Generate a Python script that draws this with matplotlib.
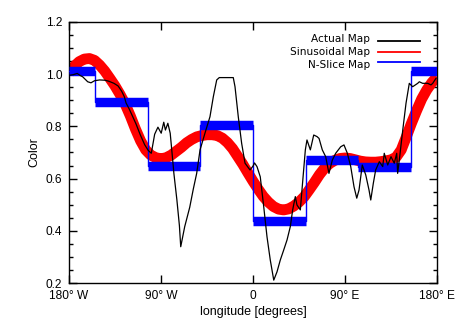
import matplotlib
matplotlib.use("Agg")
import matplotlib.pyplot as plt
from matplotlib.ticker import MultipleLocator, FixedLocator

plt.rcParams['font.family'] = ['Liberation Sans', 'DejaVu Sans']

# Actual map (black)
actual_lon = [-179.7, -176, -172, -169, -166.6, -161.7, -158.5, -155, -150, -145, -141, -136,
              -132, -128.5, -125.9, -124.2, -121, -117.4, -114.5, -110.5, -106, -102.5, -99.5,
              -96.2, -93, -89.8, -87.3, -85.7, -83.3, -81, -79, -77.4, -74.5, -72, -70.7, -66.8,
              -61.9, -58.4, -55.1, -51.8, -47, -42.1, -38.8, -35.5, -33, -19.3, -17.6, -14.4,
              -11.1, -7.8, -2.9, 0.0, 1.5, 3.9, 7.1, 10.5, 13.7, 16.9, 20.3, 23.5, 26.7, 30.0,
              33.3, 36.5, 38.8, 41.4, 43.0, 46.3, 47.9, 51.2, 52.8, 56.1, 59.4, 62.6, 64.6, 67.8,
              71.1, 74.3, 77.6, 80.9, 85.8, 89.0, 92.3, 95.6, 98.8, 101.5, 103.7, 106.9, 110.3,
              113.5, 115.2, 117.7, 120.0, 123.6, 126.9, 128.4, 131.8, 135.0, 138.2, 140.6, 141.5,
              143.1, 146.5, 149.7, 152.9, 156.2, 161.1, 162.7, 166.0, 170.9, 174.1, 175.8, 179.0]
actual_val = [0.996, 0.998, 1.003, 0.995, 0.99, 0.971, 0.967, 0.975, 0.978, 0.977, 0.973, 0.965,
              0.955, 0.935, 0.914, 0.89, 0.866, 0.835, 0.81, 0.77, 0.73, 0.708, 0.697,
              0.77, 0.797, 0.774, 0.816, 0.786, 0.812, 0.774, 0.69, 0.62, 0.52, 0.42, 0.339, 0.416,
              0.49, 0.56, 0.62, 0.71, 0.774, 0.837, 0.914, 0.978, 0.987, 0.987, 0.952, 0.837,
              0.735, 0.659, 0.633, 0.648, 0.66, 0.646, 0.607, 0.492, 0.377, 0.288, 0.211, 0.243, 0.288, 0.326,
              0.365, 0.416, 0.48, 0.531, 0.499, 0.48, 0.556, 0.71, 0.748, 0.71, 0.767, 0.761, 0.754, 0.71,
              0.684, 0.62, 0.671, 0.697, 0.722, 0.729, 0.697, 0.646, 0.569, 0.525, 0.556, 0.652, 0.614,
              0.556, 0.518, 0.582, 0.633, 0.665, 0.646, 0.697, 0.652, 0.684, 0.659, 0.697, 0.62,
              0.671, 0.786, 0.889, 0.965, 0.952, 0.965, 0.971, 0.965, 0.965, 0.959, 0.965, 0.984]

# Sinusoidal map (red)
sin_lon = [-180, -175, -170, -165, -160, -155, -150, -145, -140, -135, -130, -125, -120, -115,
           -110, -105, -100, -95, -90, -85, -80, -75, -70, -65, -60, -55, -50, -45, -40, -35,
           -30, -25, -20, -15, -10, -5, 0, 5, 10, 15, 20, 25, 30, 35, 40, 45, 50, 55, 60, 65,
           70, 75, 80, 85, 90, 95, 100, 105, 110, 115, 120, 125, 130, 135, 140, 145, 150, 155,
           160, 165, 170, 175, 180]
sin_val = [1.005, 1.03, 1.048, 1.058, 1.06, 1.053, 1.035, 1.012, 0.984, 0.955, 0.922, 0.885,
           0.84, 0.79, 0.745, 0.71, 0.69, 0.68, 0.676, 0.68, 0.69, 0.705, 0.72, 0.737, 0.75,
           0.76, 0.765, 0.768, 0.768, 0.765, 0.755, 0.738, 0.715, 0.685, 0.655, 0.622, 0.59,
           0.56, 0.532, 0.51, 0.493, 0.483, 0.48, 0.484, 0.495, 0.51, 0.53, 0.557, 0.585,
           0.615, 0.64, 0.658, 0.67, 0.677, 0.679, 0.677, 0.672, 0.667, 0.664, 0.663, 0.663,
           0.665, 0.668, 0.672, 0.682, 0.71, 0.76, 0.812, 0.86, 0.905, 0.94, 0.968, 0.99]

# N-slice map (blue)
slice_edges = [-180, -154.3, -102.9, -51.4, 0, 51.4, 102.9, 154.3, 180]
slice_val = [1.013, 0.895, 0.649, 0.805, 0.439, 0.670, 0.645, 1.013]

xtick_pos = [-180, -90, 0, 90, 180]
xtick_lab = ['180° W', '90° W', '0', '90° E', '180° E']

W, H = 458, 327
fig = plt.figure(figsize=(W / 100, H / 100), dpi=100)
ax = fig.add_axes([69 / W, (H - 283) / H, 368 / W, 261 / H])

ax.plot(sin_lon, sin_val, color='red', lw=7.8, solid_capstyle='butt', solid_joinstyle='round', zorder=2)

# thin step outline
step_x = []
step_y = []
for i, v in enumerate(slice_val):
    step_x += [slice_edges[i], slice_edges[i + 1]]
    step_y += [v, v]
ax.plot(step_x, step_y, color='blue', lw=1.0, zorder=3)
ax.hlines(slice_val, slice_edges[:-1], slice_edges[1:], color='blue', lw=6.8, zorder=3)

ax.plot(actual_lon, actual_val, color='black', lw=0.9, zorder=4)

ax.set_xlim(-180, 180)
ax.set_ylim(0.2, 1.2)
ax.xaxis.set_major_locator(FixedLocator(xtick_pos))
ax.set_xticklabels(xtick_lab)
ax.yaxis.set_major_locator(MultipleLocator(0.2))
ax.yaxis.set_minor_locator(MultipleLocator(0.05))
ax.yaxis.set_major_formatter(matplotlib.ticker.FormatStrFormatter('%.1f'))
ax.tick_params(axis='both', which='major', direction='in', length=6, width=1.0,
               top=True, right=True, labelsize=8.6, colors='black')
ax.tick_params(axis='y', which='minor', direction='in', length=3, width=1.0, right=True)
ax.tick_params(axis='x', which='major', pad=5)
ax.tick_params(axis='y', which='major', pad=5)
for s in ax.spines.values():
    s.set_linewidth(1.0)

ax.set_xlabel('longitude [degrees]', fontsize=9, labelpad=3)
ax.set_ylabel('Color', fontsize=9, labelpad=4)

# legend: one right-aligned multi-line text block plus sample lines
leg_labels = ['Actual Map', 'Sinusoidal Map', 'N-Slice Map']
leg_colors = ['black', 'red', 'blue']
leg_y = [0.927, 0.885, 0.845]
ax.text(0.818, 0.886, '\n'.join(leg_labels), transform=ax.transAxes, ha='right', va='center',
        multialignment='right', fontsize=7.6, family='DejaVu Sans', linespacing=1.35)
for col, yy in zip(leg_colors, leg_y):
    ax.plot([0.840, 0.954], [yy, yy], transform=ax.transAxes, color=col, lw=1.3, zorder=5)

fig.savefig('out.png', dpi=100)
